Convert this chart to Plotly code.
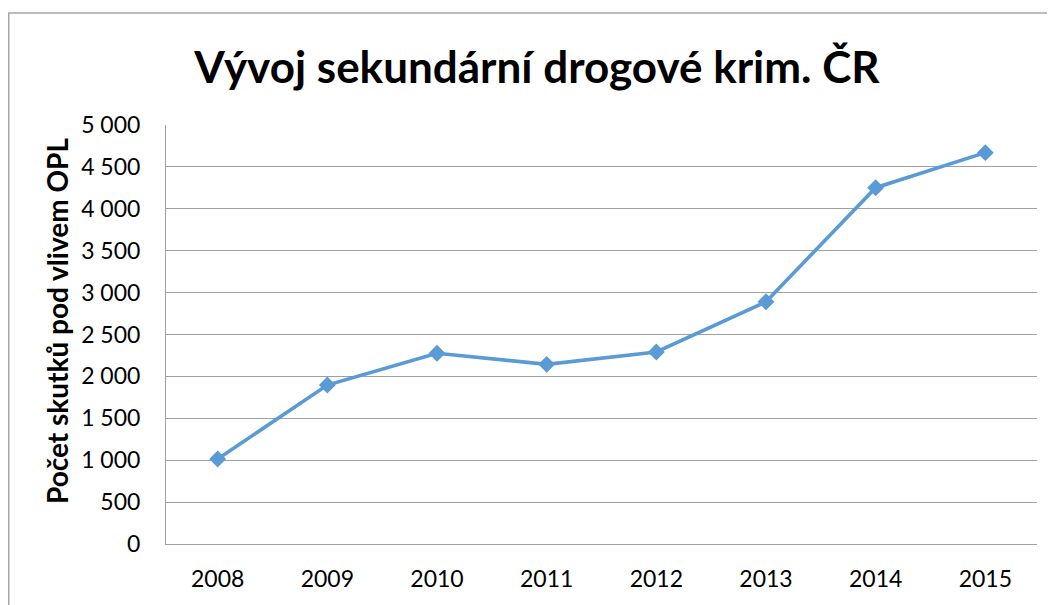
import plotly.graph_objects as go

years = ["2008", "2009", "2010", "2011", "2012", "2013", "2014", "2015"]
counts = [1014, 1897, 2276, 2144, 2291, 2891, 4252, 4670]
y_ticks = [0, 500, 1000, 1500, 2000, 2500, 3000, 3500, 4000, 4500, 5000]

title_text = "Vývoj sekundární drogové krim. ČR"
y_title = "Počet skutků pod vlivem OPL"

# page is rendered with an 8px body margin; figure coords = page coords - 8
OFF = 8
W, H = 1055 - OFF, 605 - OFF
L, R, T, B = 166 - OFF, 18, 125 - OFF, 61
pw, ph = W - L - R, H - T - B

def px_x(page_x):
    return (page_x - OFF - L) / pw

def px_y(page_y):
    return (H - B - (page_y - OFF)) / ph

fig = go.Figure()
fig.add_trace(go.Scatter(
    x=years, y=counts, mode="lines+markers",
    line=dict(color="#5b9bd5", width=3.6),
    marker=dict(symbol="diamond", size=13, color="#5b9bd5"),
    showlegend=False,
))

fig.update_layout(
    width=W, height=H,
    margin=dict(l=L, r=R, t=T, b=B),
    paper_bgcolor="white", plot_bgcolor="white",
    separators=", ",
    font=dict(family="Lato, 'Open Sans', sans-serif", color="black", size=23),
    title=dict(text="<b>" + title_text + "</b>", x=(537 - OFF) / W, xanchor="center",
               y=1 - (68 - OFF) / H, yanchor="middle",
               font=dict(size=44, color="black")),
    xaxis=dict(type="category", showgrid=False, showline=True,
               linecolor="#a0a0a0", linewidth=1, ticks="",
               ticklabelstandoff=14,
               tickfont=dict(size=23), zeroline=False),
    yaxis=dict(range=[0, 5000], tickvals=y_ticks, tickformat=",d",
               showgrid=True, gridcolor="#a0a0a0", gridwidth=1,
               showline=True, linecolor="#a0a0a0", linewidth=1,
               ticks="", ticklabelstandoff=20,
               tickfont=dict(size=23), zeroline=False),
    annotations=[dict(text="<b>" + y_title + "</b>", textangle=-90,
                      xref="paper", yref="paper",
                      x=px_x(57), y=px_y(321), xanchor="center", yanchor="middle",
                      showarrow=False, font=dict(size=28, color="black"))],
    shapes=[dict(type="rect", xref="paper", yref="paper",
                 x0=px_x(8.75), x1=px_x(1070), y0=px_y(620), y1=px_y(13),
                 line=dict(color="#a6a6a6", width=1.5), layer="below")],
)

fig.write_html("out.html")
